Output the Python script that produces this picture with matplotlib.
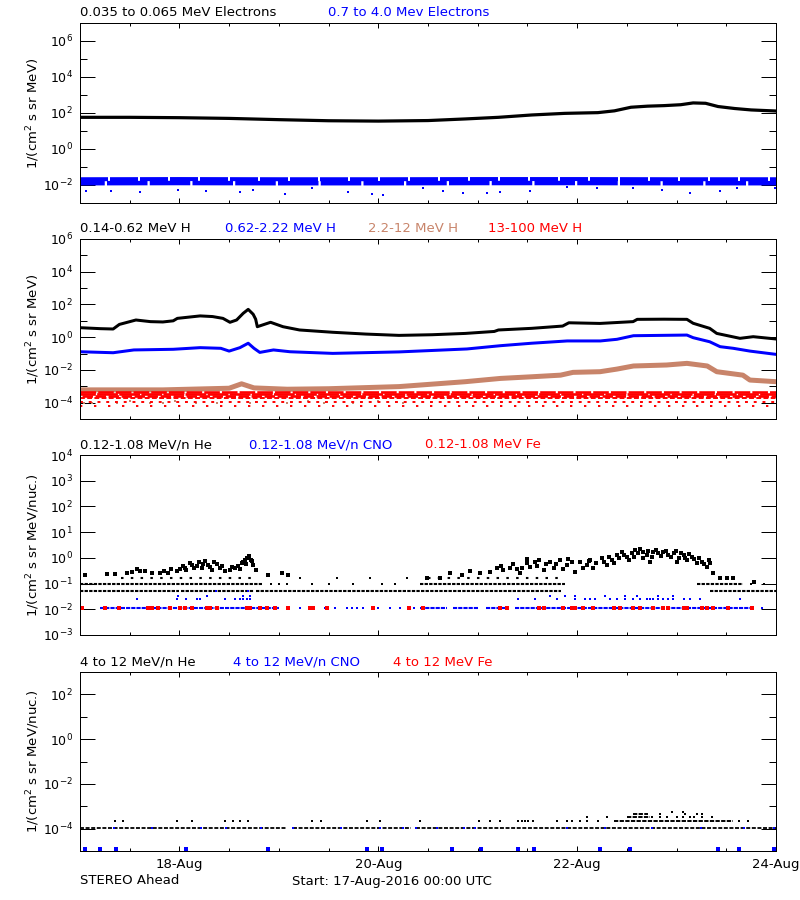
"""
STEREO Ahead in-situ particle fluxes, 17-24 Aug 2016: electrons, protons,
and two heavy-ion energy ranges, stacked as four log panels.
"""
import matplotlib
matplotlib.use("Agg")
import matplotlib.pyplot as plt
import matplotlib.dates as mdates
from matplotlib.ticker import FixedLocator, LogFormatterMathtext, NullFormatter
import numpy as np
import pandas as pd

START = pd.Timestamp("2016-08-17 00:00")

# ---- panel 1: electrons (log10 flux vs hours since start) ----
E_LOW_HOURS = [0, 12, 24, 36, 48, 60, 72, 84, 93, 101, 109, 117, 125, 129, 133,
               137, 141, 145, 148, 151, 154, 158, 162, 168]
E_LOW_LOG = [1.76, 1.76, 1.74, 1.70, 1.63, 1.57, 1.55, 1.58, 1.67, 1.76, 1.89, 1.98,
             2.02, 2.12, 2.32, 2.38, 2.41, 2.46, 2.56, 2.54, 2.36, 2.25, 2.17, 2.11]
E_HIGH_HOURS = [0, 24, 48, 72, 96, 120, 144, 168]
E_HIGH_TOP_LOG = [-1.68, -1.67, -1.68, -1.68, -1.67, -1.67, -1.68, -1.68]
E_HIGH_BOT_LOG = [-1.90, -1.89, -1.90, -1.90, -1.89, -1.89, -1.90, -1.90]
E_HIGH_OUT_HOURS = [1.4, 7.4, 14.5, 23.7, 30.5, 38.6, 41.8, 49.5, 56, 64.7, 70.4, 73.2,
                    82.9, 87.6, 92.4, 98.2, 101.4, 108.6, 117.5, 124.7, 133.6, 140.4,
                    147.3, 154.5, 158.5, 167.8]
E_HIGH_OUT_LOG = [-2.31, -2.31, -2.37, -2.28, -2.31, -2.37, -2.28, -2.50, -2.19, -2.37,
                  -2.50, -2.56, -2.19, -2.31, -2.46, -2.46, -2.37, -2.31, -2.09, -2.19,
                  -2.19, -2.28, -2.46, -2.31, -2.19, -2.19]

# ---- panel 2: protons ----
H1_HOURS = [0, 5, 8, 9.5, 13.5, 17, 20, 22.5, 23.5, 29, 32, 34.5, 36.2, 37.8, 39.4,
            40.6, 41.8, 42.4, 42.8, 46, 49, 53, 61, 69, 77, 85, 93, 100, 101, 109,
            116.5, 118, 125.5, 133.5, 134.5, 141, 146.5, 148, 152, 153.7, 159.3,
            162.5, 168]
H1_LOG = [0.58, 0.52, 0.50, 0.78, 1.05, 0.95, 0.93, 1.00, 1.15, 1.30, 1.26, 1.15, 0.91,
          1.05, 1.46, 1.70, 1.40, 1.10, 0.64, 0.91, 0.64, 0.44, 0.30, 0.19, 0.11, 0.15,
          0.23, 0.35, 0.44, 0.54, 0.68, 0.88, 0.84, 0.95, 1.09, 1.10, 1.09, 0.85, 0.54,
          0.23, -0.07, 0.03, -0.11]
H2_HOURS = [0, 8, 13, 22.5, 29, 34, 36, 38.6, 40.6, 42, 43.4, 46.7, 50.7, 61, 77, 93.4,
            101.5, 109, 117.6, 125.6, 129.6, 133.6, 146.5, 148, 152, 154.5, 157.7,
            161.7, 168]
H2_LOG = [-0.89, -0.95, -0.78, -0.74, -0.64, -0.68, -0.85, -0.64, -0.37, -0.68, -0.93,
          -0.78, -0.89, -0.99, -0.90, -0.72, -0.52, -0.37, -0.23, -0.23, -0.13, 0.09,
          0.13, -0.03, -0.28, -0.58, -0.68, -0.85, -1.05]
H3_HOURS = [0, 20, 36, 39, 42, 50, 60, 77, 93, 101.5, 109, 116, 119, 125.5, 129.6,
            133.6, 141.6, 146.5, 151.4, 153.7, 160, 161.7, 168]
H3_LOG = [-3.22, -3.22, -3.12, -2.85, -3.10, -3.18, -3.15, -3.02, -2.72, -2.52, -2.42,
          -2.32, -2.15, -2.11, -1.95, -1.76, -1.70, -1.60, -1.76, -2.11, -2.32, -2.62,
          -2.72]
H3_OUT_HOURS = [1, 3, 9, 12, 17, 20, 23, 28, 33, 41, 50, 55, 59, 66, 72, 78]
H3_OUT_LOG = [-4.0, -4.0, -4.0, -3.9, -4.0, -4.0, -3.9, -4.0, -4.0, -4.0, -4.0, -3.9,
              -4.0, -4.0, -3.9, -4.0]
H4_HOURS = [0, 168]
H4_BAND_LOG = [-3.33, -3.47, -3.60]
H4_ROW_LOG = [-3.72, -3.97, -4.22]

# ---- panel 3: 0.12-1.08 MeV/n heavy ions ----
HE3_ROWS = {  # level -> spans (hours) where the quantised level is filled
    0.16: [(10, 42), (84, 117)],
    0.10: [(0, 44), (82, 117), (149, 160)],
    0.051: [(0, 24), (24.5, 42), (42.6, 116), (152, 168)],
}
HE3_ROW_DOTS_HOURS = [46, 48, 50, 53, 56, 60, 62, 66, 70, 73, 76, 79, 162, 165]
HE3_ROW_DOTS_FLUX = [0.10, 0.10, 0.10, 0.16, 0.10, 0.10, 0.16, 0.10, 0.16, 0.10, 0.10,
                     0.16, 0.10, 0.10]
HE3_HOURS = [1.2, 6.4, 8.5, 11.3, 12.5, 13.7, 14.5, 15.8, 17.3, 19.3, 20.2, 21.3, 22.0,
             23.3, 24.1, 24.9, 25.3, 25.7, 26.6, 27.0, 27.4, 28.2, 28.8, 29.4, 29.8,
             30.2, 31.0, 31.4, 31.8, 32.4, 33.0, 33.8, 34.2, 35.0, 36.2, 36.8, 37.4,
             38.2, 38.6, 39.0, 39.4, 39.8, 40.0, 40.4, 40.8, 41.2, 41.5, 41.8, 42.4,
             45.5, 48.7, 50.3,
             83.7, 86.9, 89.3, 92.2, 94.2, 96.6, 99.0, 100.6, 101.5, 102.2, 103.8, 104.5,
             105.4, 106.2, 106.8, 107.8, 108.0, 108.7, 109.9, 110.2, 110.7, 111.9, 112.5,
             113.5, 114.3, 114.8, 115.9, 116.5, 117.5, 117.9, 118.7, 119.5, 120.7, 121.4,
             122.3, 122.8, 123.1, 123.9, 124.6, 125.9, 126.5, 127.2, 127.8, 128.4, 129.0,
             129.6, 130.2, 130.8, 131.4, 132.0, 132.6, 133.2, 133.8, 134.0, 134.6, 135.2,
             135.8, 136.0, 136.8, 137.0, 137.6, 138.0, 138.4, 139.0, 139.6, 140.2, 140.8,
             141.4, 142.0, 142.6, 143.3, 143.8, 144.1, 144.5, 145.1, 145.7, 146.0, 146.5,
             147.1, 147.7, 148.3, 148.9, 149.5, 150.1, 150.7, 151.3, 151.8, 152.1, 152.9,
             154.5, 156.1, 157.7, 162.6]
HE3_LOG = [-0.67, -0.64, -0.62, -0.58, -0.55, -0.43, -0.51, -0.52, -0.60, -0.58, -0.52,
           -0.60, -0.45, -0.51, -0.43, -0.30, -0.38, -0.47, -0.21, -0.28, -0.38, -0.30,
           -0.17, -0.41, -0.25, -0.12, -0.28, -0.35, -0.47, -0.18, -0.25, -0.41, -0.32,
           -0.51, -0.46, -0.35, -0.41, -0.33, -0.45, -0.21, -0.15, -0.08, -0.25, 0.01,
           0.08, -0.08, -0.12, -0.28, -0.47, -0.67, -0.60, -0.67,
           -0.80, -0.80, -0.60, -0.67, -0.51, -0.60, -0.54, -0.41, -0.30, -0.47, -0.41,
           -0.22, -0.44, -0.60, -0.38, -0.21, -0.05, -0.34, -0.15, -0.30, -0.09, -0.47,
           -0.22, -0.15, -0.41, -0.25, -0.09, -0.45, -0.28, -0.05, -0.18, -0.54, -0.15,
           -0.40, -0.28, -0.12, -0.09, -0.41, -0.20, -0.02, -0.15, -0.28, 0.02, -0.09,
           -0.20, 0.11, 0.00, 0.24, 0.10, 0.04, -0.10, 0.17, 0.05, 0.30, 0.18, 0.34,
           0.22, -0.02, 0.11, 0.28, -0.15, 0.05, 0.24, 0.30, 0.17, 0.08, 0.24, 0.28,
           0.11, 0.02, 0.17, 0.25, -0.15, -0.02, 0.20, 0.11, -0.02, -0.09, 0.15, 0.04,
           -0.05, -0.21, 0.00, -0.15, -0.25, -0.34, -0.10, -0.21, -0.60, -0.80, -0.77,
           -0.80, -0.93]
CNO3_ROW_FLUX = 0.0115
CNO3_ROW_SPANS = [(4.8, 48), (82, 88.5), (90, 96), (98, 103), (105, 162)]
CNO3_DOTS_HOURS = [0.5, 49.9, 53.1, 55.5, 59.1, 61.6, 64.4, 65.6, 66.8, 68.4, 72, 74.8,
                   77.2, 80.5, 164.5]
CNO3_HIGH_HOURS = [13.7, 23.3, 25.7, 28.2, 29, 35, 37.4, 38.6, 39.4, 40.2, 41.1, 105.8,
                   109.9, 115.1, 119.5, 121.9, 123.1, 124.3, 128, 129.6, 131.6, 133.6,
                   135.2, 136.8, 137.6, 138.4, 139.6, 140.8, 142, 143.2, 145.7, 147.3,
                   149.7, 159.3, 23.7, 30.6, 39.4, 41, 113.5, 117, 119.5, 126.8, 131.6,
                   134.4, 139.6, 143.2, 32.8, 40.6]
CNO3_HIGH_FLUX = [0.025] * 34 + [0.034] * 12 + [0.052] * 2
FE3_HOURS = [0.4, 6.0, 9.3, 16.5, 17.3, 18.9, 21.7, 24.1, 25.3, 27.0, 30.6, 31.4, 33.0,
             40.2, 41.0, 43.4, 45.1, 47.1, 50.3, 55.5, 56.3, 59.5, 70.8, 79.3, 82.9,
             101.4, 103.0, 110.7, 111.9, 116.7, 118.7, 119.5, 121.5, 123.9, 128.8,
             130.4, 133.6, 135.2, 138.4, 140.8, 142.0, 145.7, 146.5, 150.1, 151.3,
             152.9, 156.5, 162.2]
FE3_FLUX = 0.0115

# ---- panel 4: 4-12 MeV/n heavy ions ----
HE4_ROW_FLUX = 1.1e-4
HE4_ROW_SPANS = [(0, 50), (51.5, 80), (81, 168)]
HE4_HOURS = [8.4, 10.5, 23.4, 27, 35.1, 37, 38.5, 40.5, 56.1, 58.1, 69.2, 72.4, 82,
             96.2, 99, 101.4, 105.8, 106.6, 107.4, 108.2, 109.4, 115.1, 117.5, 118.7,
             120.7, 122.3, 122.3, 125.1, 127.1, 138, 140, 141.6, 144, 145.6, 147.3,
             148.1, 150.1, 152.5, 159, 161.3, 140, 146, 149, 150.1, 143, 145.6]
HE4_FLUX = ([2.2e-4] * 26 + [3.3e-4] + [2.2e-4] + [3.3e-4] * 10 + [2.2e-4] * 2
            + [4.3e-4] * 4 + [5.6e-4] * 2)
HE4_SPANS = {2.2e-4: [(128.8, 157.7)], 3.3e-4: [(132, 137.6)], 4.3e-4: [(133.6, 137.2)]}
CNO4_ROW_HOURS = [8.1, 17.3, 29.2, 35.2, 43.6, 51.4, 63.1, 72.3, 78, 81.2, 86.1, 92.6,
                  95.3, 117.5, 126.7, 138, 150, 160.3, 167.5]
CNO4_ROW_FLUX = 1.1e-4
CNO4_LOW_HOURS = [1.1, 4.9, 8.7, 25.5, 45.3, 69.3, 72.9, 89.7, 96.7, 105.7, 109.6,
                  125.4, 132.7, 154, 159, 167.6]
CNO4_LOW_FLUX = 1.2e-5

BLACK, BLUE, BROWN, RED = "black", "#0000FF", "#C8846A", "#FF0000"

PANEL_TITLES = [
    [("0.035 to 0.065 MeV Electrons", BLACK, 80), ("0.7 to 4.0 Mev Electrons", BLUE, 328)],
    [("0.14-0.62 MeV H", BLACK, 80), ("0.62-2.22 MeV H", BLUE, 225),
     ("2.2-12 MeV H", BROWN, 368), ("13-100 MeV H", RED, 488)],
    [("0.12-1.08 MeV/n He", BLACK, 80), ("0.12-1.08 MeV/n CNO", BLUE, 249),
     ("0.12-1.08 MeV Fe", RED, 425)],
    [("4 to 12 MeV/n He", BLACK, 80), ("4 to 12 MeV/n CNO", BLUE, 233),
     ("4 to 12 MeV Fe", RED, 393)],
]
Y_LABELS = ["1/(cm$^2$ s sr MeV)", "1/(cm$^2$ s sr MeV)",
            "1/(cm$^2$ s sr MeV/nuc.)", "1/(cm$^2$ s sr MeV/nuc.)"]
# (ymin exp, ymax exp, major exps, minor exps)
Y_RANGES = [(-3, 7, range(-2, 7, 2), range(-3, 8, 2)),
            (-5, 6, range(-4, 7, 2), range(-5, 6, 2)),
            (-3, 4, range(-3, 5), []),
            (-5, 3, range(-4, 3, 2), range(-5, 4, 2))]

FONT = 9.5
TICK_FONT = 9
PX = 0.72  # points per pixel at dpi 100


def t(h):
    return START + pd.to_timedelta(np.asarray(h, dtype=float), unit="h")


def pts(ax, hours, flux, color, ms=2.2):
    ax.plot(t(hours), flux, ls="none", marker="s", ms=ms, mew=0, color=color)


def spans(ax, segs, level, color, dash=(1.6, 0.6), lw=1.6, offset=0):
    for a, b in segs:
        ax.plot(t([a, b]), [level, level], color=color, lw=lw, ls=(offset, dash),
                dash_capstyle="butt", solid_capstyle="butt")


def main() -> None:
    plt.rcParams["font.family"] = "DejaVu Sans"
    plt.rcParams["mathtext.fontset"] = "dejavusans"
    fig = plt.figure(figsize=(8, 9), dpi=100)
    boxes = [(23, 203), (239, 419), (455, 635), (672, 851)]
    axes = []
    for top, bot in boxes:
        ax = fig.add_axes([80 / 800, 1 - bot / 900, 696 / 800, (bot - top) / 900])
        axes.append(ax)

    a1, a2, a3, a4 = axes
    # panel 1
    a1.plot(t(E_LOW_HOURS), 10.0 ** np.array(E_LOW_LOG), color=BLACK, lw=3.2 * PX)
    a1.plot(t(E_HIGH_HOURS), 10.0 ** np.array(E_HIGH_TOP_LOG), color=BLUE, lw=4 * PX,
            ls=(0, (7, 0.5)), dash_capstyle="butt")
    a1.plot(t(E_HIGH_HOURS), 10.0 ** np.array(E_HIGH_BOT_LOG), color=BLUE, lw=4.5 * PX,
            ls=(3.5, (9, 0.5)), dash_capstyle="butt")
    pts(a1, E_HIGH_OUT_HOURS, 10.0 ** np.array(E_HIGH_OUT_LOG), BLUE, ms=2.0)

    # panel 2
    a2.plot(t(H1_HOURS), 10.0 ** np.array(H1_LOG), color=BLACK, lw=3 * PX)
    a2.plot(t(H2_HOURS), 10.0 ** np.array(H2_LOG), color=BLUE, lw=3 * PX)
    a2.plot(t(H3_HOURS), 10.0 ** np.array(H3_LOG), color=BROWN, lw=5 * PX)
    pts(a2, H3_OUT_HOURS, 10.0 ** np.array(H3_OUT_LOG), BROWN, ms=2.0)
    for i, lev in enumerate(H4_BAND_LOG):
        spans(a2, [(0, 168)], 10.0 ** lev, RED, dash=[(6, 0.8), (8, 0.5), (4, 1.0)][i],
              lw=2.6 * PX, offset=i * 2.1)
    for i, lev in enumerate(H4_ROW_LOG):
        dash = [(2.5, 1.2), (1.5, 3), (1.2, 6)][i]
        spans(a2, [(0, 168)], 10.0 ** lev, RED, dash=dash, lw=1.4)

    # panel 3
    for lev, segs in HE3_ROWS.items():
        dash = (1.6, 0.6) if lev != 0.16 else (1.2, 3.5)
        spans(a3, segs, lev, BLACK, dash=dash, lw=1.5)
    pts(a3, HE3_ROW_DOTS_HOURS, HE3_ROW_DOTS_FLUX, BLACK, ms=2.0)
    pts(a3, HE3_HOURS, 10.0 ** np.array(HE3_LOG), BLACK, ms=2.2)
    spans(a3, CNO3_ROW_SPANS, CNO3_ROW_FLUX, BLUE, dash=(2.0, 0.5), lw=1.5)
    pts(a3, CNO3_DOTS_HOURS, [CNO3_ROW_FLUX] * len(CNO3_DOTS_HOURS), BLUE, ms=2.0)
    pts(a3, CNO3_HIGH_HOURS, CNO3_HIGH_FLUX, BLUE, ms=2.0)
    pts(a3, FE3_HOURS, [FE3_FLUX] * len(FE3_HOURS), RED, ms=2.2)

    # panel 4
    spans(a4, HE4_ROW_SPANS, HE4_ROW_FLUX, BLACK, dash=(2.2, 0.9), lw=1.3)
    for lev, segs in HE4_SPANS.items():
        spans(a4, segs, lev, BLACK, dash=(2.2, 0.7), lw=1.4)
    pts(a4, HE4_HOURS, HE4_FLUX, BLACK, ms=2.0)
    pts(a4, CNO4_ROW_HOURS, [CNO4_ROW_FLUX] * len(CNO4_ROW_HOURS), BLUE, ms=2.0)
    pts(a4, CNO4_LOW_HOURS, [CNO4_LOW_FLUX] * len(CNO4_LOW_HOURS), BLUE, ms=2.4)

    for ax, (lo, hi, majors, minors), ylab, titles, (top, bot) in zip(
            axes, Y_RANGES, Y_LABELS, PANEL_TITLES, boxes):
        ax.set_yscale("log")
        ax.set_ylim(10.0 ** lo, 10.0 ** hi)
        ax.set_xlim(t([0, 168]))
        ax.yaxis.set_major_locator(FixedLocator([10.0 ** e for e in majors]))
        ax.yaxis.set_minor_locator(FixedLocator([10.0 ** e for e in minors]))
        ax.yaxis.set_major_formatter(LogFormatterMathtext())
        ax.yaxis.set_minor_formatter(NullFormatter())
        ax.xaxis.set_major_locator(mdates.DayLocator(bymonthday=[18, 20, 22, 24]))
        ax.xaxis.set_minor_locator(mdates.HourLocator(byhour=[0, 12]))
        ax.xaxis.set_major_formatter(mdates.DateFormatter("%d-%b"))
        ax.tick_params(axis="y", which="major", direction="in", length=15 * PX,
                       width=PX, left=True, right=True, labelsize=TICK_FONT, pad=5)
        ax.tick_params(axis="y", which="minor", direction="in", length=7 * PX,
                       width=PX, left=True, right=True)
        ax.tick_params(axis="x", which="major", direction="in", length=5 * PX,
                       width=PX, top=True, bottom=True, labelsize=FONT, pad=5)
        ax.tick_params(axis="x", which="minor", direction="in", length=3 * PX,
                       width=PX, top=True, bottom=True)
        for s in ax.spines.values():
            s.set_linewidth(PX)
        if ax is not a4:
            ax.tick_params(axis="x", labelbottom=False)
        ax.text((33 - 80) / 696, 0.5, ylab, transform=ax.transAxes, rotation=90,
                ha="center", va="center", fontsize=FONT)
        for text, color, x in titles:
            fig.text(x / 800, 1 - (top - 10) / 900, text, color=color, fontsize=FONT,
                     ha="left", va="center")

    fig.text(80 / 800, 1 - 881 / 900, "STEREO Ahead", fontsize=FONT, ha="left", va="center")
    fig.text(292 / 800, 1 - 881 / 900, "Start: 17-Aug-2016 00:00 UTC", fontsize=FONT,
             ha="left", va="center")
    fig.savefig("out.png", dpi=100)
    plt.close(fig)


if __name__ == "__main__":
    main()
